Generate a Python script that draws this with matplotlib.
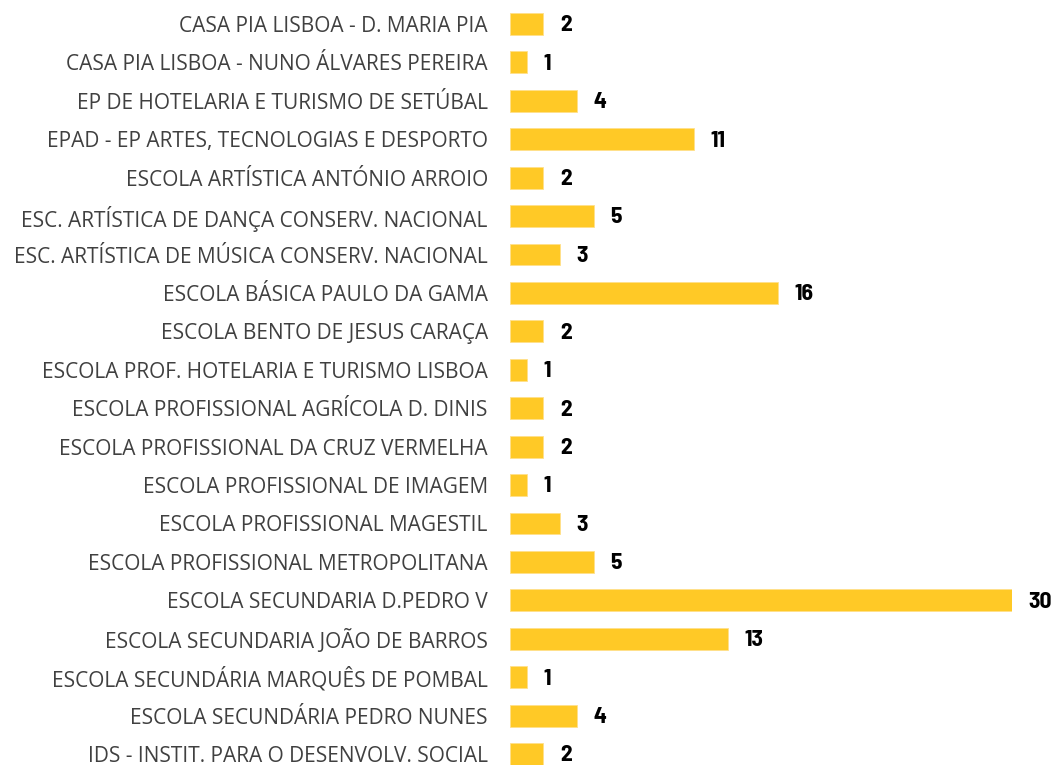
import matplotlib
matplotlib.use("Agg")
import matplotlib.pyplot as plt
from matplotlib import font_manager

schools = [
    "CASA PIA LISBOA - D. MARIA PIA",
    "CASA PIA LISBOA - NUNO ÁLVARES PEREIRA",
    "EP DE HOTELARIA E TURISMO DE SETÚBAL",
    "EPAD - EP ARTES, TECNOLOGIAS E DESPORTO",
    "ESCOLA ARTÍSTICA ANTÓNIO ARROIO",
    "ESC. ARTÍSTICA DE DANÇA CONSERV. NACIONAL",
    "ESC. ARTÍSTICA DE MÚSICA CONSERV. NACIONAL",
    "ESCOLA BÁSICA PAULO DA GAMA",
    "ESCOLA BENTO DE JESUS CARAÇA",
    "ESCOLA PROF. HOTELARIA E TURISMO LISBOA",
    "ESCOLA PROFISSIONAL AGRÍCOLA D. DINIS",
    "ESCOLA PROFISSIONAL DA CRUZ VERMELHA",
    "ESCOLA PROFISSIONAL DE IMAGEM",
    "ESCOLA PROFISSIONAL MAGESTIL",
    "ESCOLA PROFISSIONAL METROPOLITANA",
    "ESCOLA SECUNDARIA D.PEDRO V",
    "ESCOLA SECUNDARIA JOÃO DE BARROS",
    "ESCOLA SECUNDÁRIA MARQUÊS DE POMBAL",
    "ESCOLA SECUNDÁRIA PEDRO NUNES",
    "IDS - INSTIT. PARA O DESENVOLV. SOCIAL",
]
counts = [2, 1, 4, 11, 2, 5, 3, 16, 2, 1, 2, 2, 1, 3, 5, 30, 13, 1, 4, 2]

# narrow bold font for the value labels, whichever is installed
names = {f.name for f in font_manager.fontManager.ttflist}
num_font = "DejaVu Sans"
for cand in ["Liberation Sans Narrow", "Barlow Semi Condensed", "Asap Condensed"]:
    if cand in names:
        num_font = cand
        break

fig = plt.figure(figsize=(10.53, 7.65), dpi=100)
ax = fig.add_axes([510 / 1053, 0, (1012 - 510) / 1053, 1])

y = list(range(len(schools)))
ax.barh(y, counts, height=0.57, color="#FFC926", edgecolor="#FFE08A", linewidth=0.6)

ax.set_xlim(0, 30)
ax.set_ylim(19.287, -0.625)
ax.set_yticks(y)
ax.set_yticklabels(schools, fontfamily="Open Sans", fontsize=15, color="#404040")
ax.tick_params(axis="y", length=0, pad=16)
ax.set_xticks([])
for s in ax.spines.values():
    s.set_visible(False)

for yi, v in zip(y, counts):
    ax.annotate(str(v), (v, yi), xytext=(12, -1), textcoords="offset points",
                ha="left", va="center", fontfamily=num_font, fontweight="bold",
                fontsize=17, color="black", annotation_clip=False)

fig.savefig("out.png", dpi=100)
